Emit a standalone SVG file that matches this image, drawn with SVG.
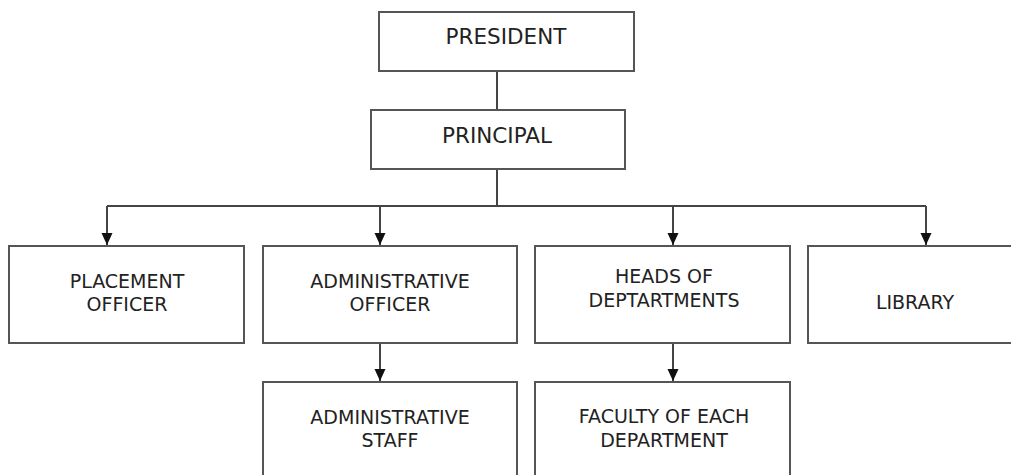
<svg xmlns="http://www.w3.org/2000/svg" width="1011" height="475" viewBox="0 0 1011 475">
<defs>
<style>
.box{fill:#fff;stroke:#555;stroke-width:2}
.lbl{font-family:"DejaVu Sans","Liberation Sans",sans-serif;fill:#222;text-anchor:middle;font-size:19px}
.big{font-size:21.5px}
.con{stroke:#444;stroke-width:2;fill:none}
</style>
<marker id="arr" markerUnits="userSpaceOnUse" viewBox="0 0 12 12" refX="12" refY="6" markerWidth="12" markerHeight="12" orient="auto">
<path d="M0,0.5 L12,6 L0,11.5 z" fill="#111"/>
</marker>
</defs>
<rect width="1011" height="475" fill="#fff"/>
<g id="connectors">
<line class="con" x1="497" y1="71" x2="497" y2="110"/>
<line class="con" x1="497" y1="169" x2="497" y2="206"/>
<line class="con" x1="107" y1="206" x2="926" y2="206"/>
<line class="con" x1="107" y1="206" x2="107" y2="245" marker-end="url(#arr)"/>
<line class="con" x1="380" y1="206" x2="380" y2="245" marker-end="url(#arr)"/>
<line class="con" x1="673" y1="206" x2="673" y2="245" marker-end="url(#arr)"/>
<line class="con" x1="926" y1="206" x2="926" y2="245" marker-end="url(#arr)"/>
<line class="con" x1="380" y1="343" x2="380" y2="381" marker-end="url(#arr)"/>
<line class="con" x1="673" y1="343" x2="673" y2="381" marker-end="url(#arr)"/>
</g>
<g id="president">
<rect class="box" x="379" y="12" width="255" height="59"/>
<text class="lbl big" x="506" y="44">PRESIDENT</text>
</g>
<g id="principal">
<rect class="box" x="371" y="110" width="254" height="59"/>
<text class="lbl big" x="497" y="143">PRINCIPAL</text>
</g>
<g id="placement">
<rect class="box" x="9" y="246" width="235" height="97"/>
<text class="lbl" x="127" y="288">PLACEMENT</text>
<text class="lbl" x="127" y="311">OFFICER</text>
</g>
<g id="admin-officer">
<rect class="box" x="263" y="246" width="254" height="97"/>
<text class="lbl" x="390" y="288">ADMINISTRATIVE</text>
<text class="lbl" x="390" y="311">OFFICER</text>
</g>
<g id="heads">
<rect class="box" x="535" y="246" width="255" height="97"/>
<text class="lbl" x="664" y="283">HEADS OF</text>
<text class="lbl" x="664" y="307">DEPTARTMENTS</text>
</g>
<g id="library">
<rect class="box" x="808" y="246" width="215" height="97"/>
<text class="lbl" x="915" y="309">LIBRARY</text>
</g>
<g id="admin-staff">
<rect class="box" x="263" y="382" width="254" height="110"/>
<text class="lbl" x="390" y="424">ADMINISTRATIVE</text>
<text class="lbl" x="390" y="447">STAFF</text>
</g>
<g id="faculty">
<rect class="box" x="535" y="382" width="255" height="110"/>
<text class="lbl" x="664" y="423">FACULTY OF EACH</text>
<text class="lbl" x="664" y="447">DEPARTMENT</text>
</g>
</svg>
